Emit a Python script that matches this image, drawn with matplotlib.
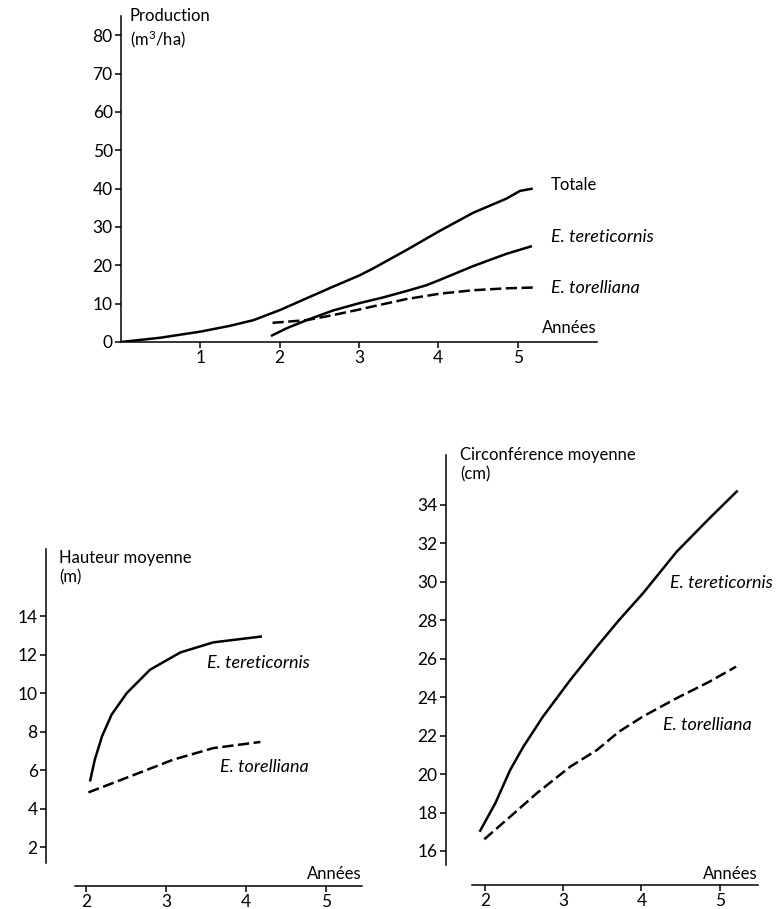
import numpy as np
import matplotlib.pyplot as plt

plt.rcParams['font.family'] = ['Lato', 'DejaVu Sans']
plt.rcParams['font.size'] = 12
plt.rcParams['mathtext.fontset'] = 'custom'
plt.rcParams['mathtext.rm'] = 'Lato'
plt.rcParams['mathtext.default'] = 'regular'

# production (m3/ha) vs years
tot_x = [0, 0.49, 1.0, 1.37, 1.67, 2.0, 2.34, 2.67, 3.01, 3.18, 3.6, 4.02, 4.44, 4.86, 5.03, 5.19]
tot_y = [0, 1.1, 2.7, 4.2, 5.7, 8.3, 11.4, 14.4, 17.4, 19.2, 24.0, 29.0, 33.7, 37.4, 39.4, 40.0]
ter_x = [1.89, 2.09, 2.34, 2.67, 3.0, 3.3, 3.6, 3.85, 4.02, 4.44, 4.86, 5.18]
ter_y = [1.56, 3.6, 5.7, 8.2, 10.1, 11.6, 13.3, 14.8, 16.2, 19.8, 23.0, 25.0]
tor_x = [1.91, 2.34, 2.67, 3.01, 3.18, 3.6, 4.02, 4.44, 4.86, 5.19]
tor_y = [5.0, 5.7, 7.0, 8.5, 9.3, 11.2, 12.6, 13.5, 14.0, 14.2]

# mean height (m)
h_ter_x = [2.05, 2.11, 2.2, 2.32, 2.51, 2.8, 3.18, 3.59, 4.2]
h_ter_y = [5.43, 6.56, 7.77, 8.9, 10.02, 11.23, 12.13, 12.65, 12.96]
h_tor_x = [2.03, 2.55, 3.09, 3.59, 4.18]
h_tor_y = [4.86, 5.69, 6.56, 7.16, 7.48]

# mean circumference (cm)
c_ter_x = [1.93, 2.13, 2.32, 2.49, 2.74, 3.09, 3.43, 3.71, 4.02, 4.45, 4.87, 5.23]
c_ter_y = [17.0, 18.48, 20.21, 21.43, 22.99, 24.9, 26.63, 28.0, 29.41, 31.57, 33.31, 34.75]
c_tor_x = [1.99, 2.32, 2.66, 3.09, 3.43, 3.71, 4.02, 4.45, 4.87, 5.21]
c_tor_y = [16.61, 17.78, 19.0, 20.39, 21.25, 22.2, 23.0, 23.95, 24.81, 25.59]

W, H = 777, 909
fig = plt.figure(figsize=(W / 100, H / 100), dpi=100)


def make_ax(left, top, right, bottom):
    ax = fig.add_axes([left / W, 1 - bottom / H, (right - left) / W, (bottom - top) / H])
    ax.patch.set_alpha(0)
    for s in ['top', 'right']:
        ax.spines[s].set_visible(False)
    for s in ['left', 'bottom']:
        ax.spines[s].set_linewidth(1.1)
    ax.tick_params(axis='both', width=1.1, length=4, pad=2, labelsize=12.5)
    return ax


solid = dict(color='black', lw=1.8, solid_capstyle='butt', solid_joinstyle='round')
dashed = dict(color='black', lw=1.8, dashes=(4.5, 1.8))
ital = dict(style='italic', fontsize=13)

# top panel
ax1 = make_ax(121, 16, 597, 342)
ax1.set_xlim(0, 6.0)
ax1.set_ylim(0, 85)
ax1.set_xticks([1, 2, 3, 4, 5])
ax1.set_yticks(range(0, 81, 10))
ax1.plot(tot_x, tot_y, **solid)
ax1.plot(ter_x, ter_y, **solid)
ax1.plot(tor_x, tor_y, **dashed)
ax1.text(0.11, 87, 'Production\n(m$^3$/ha)', va='top', ha='left', linespacing=1.25)
ax1.text(6.0, 2.3, 'Années', ha='right', va='baseline')
ax1.text(5.42, 40.9, 'Totale', va='center')
ax1.text(5.42, 27.4, 'E. tereticornis', va='center', **ital)
ax1.text(5.42, 14.0, 'E. torelliana', va='center', **ital)

# bottom left panel
ax2 = make_ax(46, 549, 362, 886)
ax2.set_xlim(1.5, 5.45)
ax2.set_ylim(0, 17.5)
ax2.spines['left'].set_bounds(1.2, 17.5)
ax2.spines['bottom'].set_bounds(1.86, 5.45)
ax2.set_xticks([2, 3, 4, 5])
ax2.set_yticks(range(2, 15, 2))
ax2.plot(h_ter_x, h_ter_y, **solid)
ax2.plot(h_tor_x, h_tor_y, **dashed)
ax2.text(1.66, 17.45, 'Hauteur moyenne\n(m)', va='top', ha='left', linespacing=1.25)
ax2.text(5.45, 0.37, 'Années', ha='right', va='baseline')
ax2.text(3.51, 11.6, 'E. tereticornis', va='center', **ital)
ax2.text(3.68, 6.2, 'E. torelliana', va='center', **ital)

# bottom right panel
ax3 = make_ax(446, 455, 758, 885)
ax3.set_xlim(1.5, 5.49)
ax3.set_ylim(14.23, 36.6)
ax3.spines['left'].set_bounds(15.27, 36.6)
ax3.spines['bottom'].set_bounds(1.83, 5.49)
ax3.set_xticks([2, 3, 4, 5])
ax3.set_yticks(range(16, 35, 2))
ax3.plot(c_ter_x, c_ter_y, **solid)
ax3.plot(c_tor_x, c_tor_y, **dashed)
ax3.text(1.68, 37.0, 'Circonférence moyenne\n(cm)', va='top', ha='left', linespacing=1.25)
ax3.text(5.49, 14.53, 'Années', ha='right', va='baseline')
ax3.text(4.36, 29.94, 'E. tereticornis', va='center', **ital)
ax3.text(4.27, 22.55, 'E. torelliana', va='center', **ital)

fig.savefig('out.png', dpi=100)
